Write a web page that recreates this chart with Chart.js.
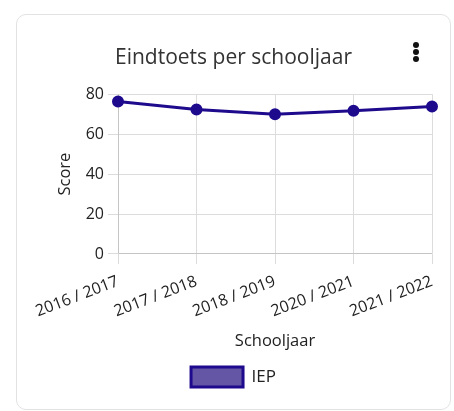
<!DOCTYPE html>
<html>
<head>
<meta charset="utf-8">
<script src="https://cdn.jsdelivr.net/npm/chart.js@4"></script>
<style>
    body { margin: 0; background: #fff; font-family: "Open Sans", sans-serif; }
    #card {
        position: absolute; left: 16px; top: 14px; width: 433px; height: 394px;
        border: 1px solid #e2e2e2; border-radius: 10px; background: #fff;
    }
    #wrap { position: absolute; left: 0; top: 0; width: 433px; height: 394px; }
    #menu { position: absolute; left: 396px; top: 27px; width: 8px; }
    #menu span { display: block; width: 6px; height: 6px; border-radius: 50%; background: #111; margin-bottom: 1px; }
</style>
</head>
<body>
<div id="card">
    <div id="wrap"><canvas id="chart"></canvas></div>
    <div id="menu"><span></span><span></span><span></span></div>
</div>
<script>
const schooljaren = ["2016 / 2017", "2017 / 2018", "2018 / 2019", "2020 / 2021", "2021 / 2022"];
const iepScores = [76.3, 72.3, 70.0, 71.7, 73.8];
const scoreTicks = [0, 20, 40, 60, 80];

document.addEventListener("DOMContentLoaded", () => {
    const ctx = document.getElementById("chart").getContext("2d");
    new Chart(ctx, {
        type: "line",
        data: {
            labels: schooljaren,
            datasets: [
                {
                    label: "IEP",
                    data: iepScores,
                    borderColor: "#1e0a8c",
                    backgroundColor: "rgba(40, 20, 130, 0.72)",
                    borderWidth: 3,
                    pointRadius: 4.5,
                    pointBackgroundColor: "#1e0a8c",
                    pointBorderColor: "#1e0a8c",
                    tension: 0,
                },
            ],
        },
        options: {
            responsive: true,
            maintainAspectRatio: false,
            animation: false,
            layout: { padding: { left: 18, right: 18, top: 26, bottom: 12 } },
            plugins: {
                title: {
                    display: true,
                    text: "Eindtoets per schooljaar",
                    color: "#333",
                    font: { family: "Open Sans", size: 21, weight: "normal" },
                    padding: { top: 4, bottom: 24 },
                },
                legend: {
                    position: "bottom",
                    labels: {
                        color: "#222",
                        boxWidth: 52,
                        boxHeight: 20,
                        padding: 12,
                        font: { family: "Open Sans", size: 17 },
                    },
                },
            },
            scales: {
                x: {
                    title: {
                        display: true,
                        text: "Schooljaar",
                        color: "#222",
                        font: { family: "Open Sans", size: 16.5 },
                        padding: { top: 2, bottom: 4 },
                    },
                    ticks: {
                        color: "#222",
                        minRotation: 21,
                        maxRotation: 21,
                        padding: 8,
                        font: { family: "Open Sans", size: 16 },
                    },
                    grid: { color: "#dcdcdc", tickLength: 10 },
                },
                y: {
                    min: 0,
                    max: 80,
                    afterBuildTicks: (axis) => { axis.ticks = scoreTicks.map((v) => ({ value: v })); },
                    afterFit: (axis) => { axis.width = 83; },
                    title: {
                        display: true,
                        text: "Score",
                        color: "#222",
                        font: { family: "Open Sans", size: 16.5 },
                        padding: { top: 20, bottom: 4 },
                    },
                    ticks: {
                        color: "#222",
                        padding: 4,
                        font: { family: "Open Sans", size: 16 },
                    },
                    grid: { color: "#dcdcdc", tickLength: 10 },
                },
            },
        },
    });
});
</script>
</body>
</html>
